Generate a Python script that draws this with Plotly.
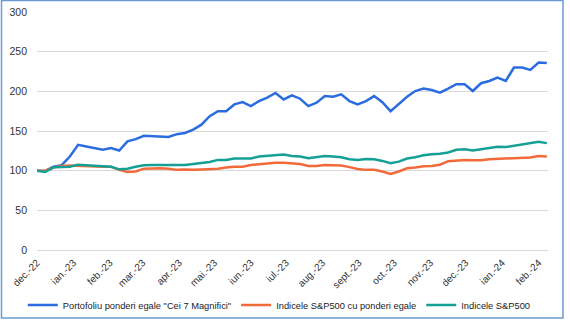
import pandas as pd
import plotly.graph_objects as go

dates = pd.date_range("2022-12-01", periods=63, freq="7D")

portofoliu = [100, 99.6, 105, 107, 117.8, 132.6, 130.5, 128.4, 126.3, 128.4,
              125.4, 136.9, 139.8, 144, 143.2, 142.4, 142.4, 146, 147.5, 151.7,
              158, 168.6, 175, 175, 183.5, 186.4, 181.4, 187.7, 192, 198,
              189.8, 195, 190.7, 181.4, 185.6, 194, 193.2, 196.2, 187.7, 183.5,
              187.7, 194, 186.4, 175, 183.5, 193.2, 200.4, 203.4, 201.7, 198.3,
              203.4, 209, 209, 200.4, 210.2, 213, 217.4, 213, 230, 230,
              227, 236.4, 235.6]

sp500_egal = [100, 100, 104, 106, 106.5, 106, 106, 105.5, 105, 105,
              101, 98.3, 99, 102.5, 103, 103, 102.5, 101, 101.5, 101,
              101.5, 102, 102.5, 104, 105, 105, 107, 108, 109, 110,
              110, 109.5, 108.5, 106, 106, 107, 106.5, 106.5, 104.5, 102,
              101, 101, 99, 96, 99, 103, 104, 105.5, 106, 107.5,
              112, 113, 113.5, 113, 113, 114.5, 115, 115.5, 115.5, 116,
              116.5, 118.5, 118]

sp500 = [100, 98.3, 104.2, 104.2, 105, 107.6, 106.8, 106, 105, 105,
         101.7, 102.5, 105, 106.8, 107.2, 107.2, 106.8, 107.2, 107.2, 108.5,
         109.3, 111, 113.6, 113.6, 115.3, 115.7, 115.3, 117.8, 118.6, 120,
         120.3, 118.6, 117.8, 115.7, 117, 118.6, 117.8, 117, 114.4, 113.6,
         114.8, 114.4, 112.3, 109.3, 111.4, 115.3, 117, 119.5, 120.8, 121.2,
         122.9, 126.3, 127.1, 125.4, 127.1, 128.8, 130.1, 129.7, 131.4, 132.6,
         134.7, 136.4, 134.7]

tick_dates = pd.date_range("2022-12-01", periods=15, freq="MS")
tick_labels = ["dec.-22", "ian.-23", "feb.-23", "mar.-23", "apr.-23", "mai.-23",
               "iun.-23", "iul.-23", "aug.-23", "sept.-23", "oct.-23", "nov.-23",
               "dec.-23", "ian.-24", "feb.-24"]

names = ['Portofoliu ponderi egale "Cei 7 Magnifici"',
         "Indicele S&P500 cu ponderi egale",
         "Indicele S&P500"]
colors = ["#2b6de0", "#f26a3a", "#15a096"]

fig = go.Figure()
for name, vals, col in zip(names, [portofoliu, sp500_egal, sp500], colors):
    fig.add_trace(go.Scatter(x=dates, y=vals, mode="lines", name=name,
                             line=dict(color=col, width=2.5)))

font_fam = "Liberation Sans, Arial, sans-serif"

# plot area pixels: left 37, right 548, top 12, bottom 250
L, R, T, B = 37, 548, 12, 250
W, H = 570, 336
pw, ph = R - L, B - T

def px(p):
    return (p - L) / pw

def py(p):
    return (B - p) / ph

fig.update_layout(
    width=W, height=H,
    margin=dict(l=L, r=W - R, t=T, b=H - B, autoexpand=False),
    paper_bgcolor="white", plot_bgcolor="white",
    font=dict(family=font_fam, size=10, color="#333333"),
    showlegend=True,
    legend=dict(orientation="h", xref="container", yref="container",
                x=0.49, xanchor="center", y=(H - 305) / H, yanchor="middle",
                font=dict(size=9.3, color="#222222"), itemwidth=30, tracegroupgap=0,
                bgcolor="rgba(0,0,0,0)"),
    xaxis=dict(tickvals=list(tick_dates), ticktext=tick_labels, tickangle=-45,
               showgrid=False, zeroline=False, showline=False, ticks="",
               ticklabelstandoff=4,
               range=[dates[0], dates[-1] + pd.Timedelta(days=1)],
               tickfont=dict(size=10, color="#333333")),
    yaxis=dict(range=[0, 300], dtick=50, showgrid=True, gridcolor="#d9d9d9",
               gridwidth=1, zeroline=True, zerolinecolor="#d9d9d9", zerolinewidth=1,
               showline=False, ticks="", ticklabelstandoff=9,
               tickfont=dict(size=10.5, color="#333333")),
    shapes=[dict(type="rect", xref="paper", yref="paper",
                 x0=px(1.5), x1=px(563), y0=py(0.5), y1=py(318),
                 line=dict(color="#6a9ad8", width=1.5), layer="below")],
)

fig.write_html("out.html")
